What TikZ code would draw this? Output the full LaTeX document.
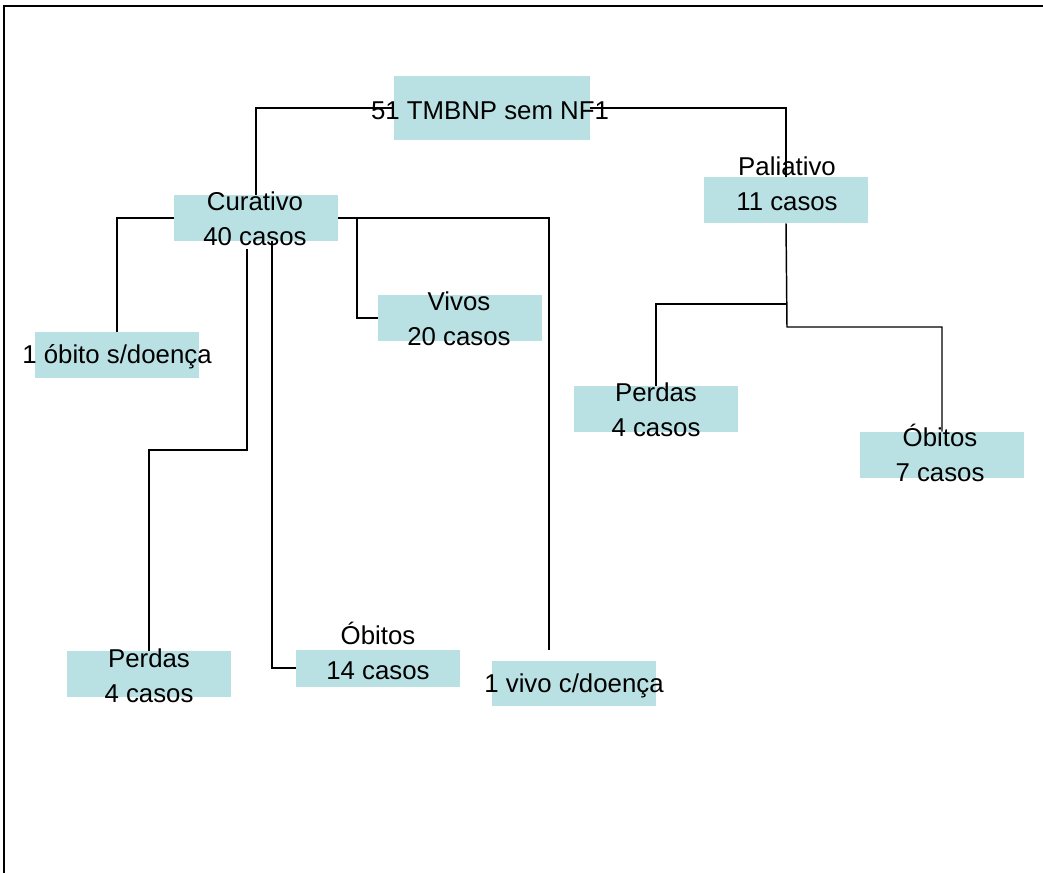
\documentclass[tikz,border=0pt]{standalone}
\usepackage{fontspec}
\setmainfont{Liberation Sans}
\usetikzlibrary{calc}
\definecolor{azulcaixa}{RGB}{185,224,226}
\pgfdeclarelayer{fundo}
\pgfsetlayers{fundo,main}
\tikzset{
	caixa/.style={fill=azulcaixa, draw=none, inner sep=0pt, minimum width=123pt, minimum height=34.5pt},
	rotulo/.style={anchor=base, align=center, inner sep=0pt, font=\fontsize{19.35}{26.25}\selectfont},
	liga/.style={line width=1.1pt},
	moldura/.style={line width=1.6pt}
}

\begin{document}
\begin{tikzpicture}[x=0.75pt, y=-0.75pt]
		%%%%% START %%%%%
		\useasboundingbox (0,0) rectangle (1043,873);
		\draw[moldura] (4,873) -- (4,6) -- (1043,6);
		
		% caixas
		\node[caixa, minimum width=147pt, minimum height=48pt] (raiz) at (492,108) {};
		\node[caixa] (cur) at (256,218) {};
		\node[caixa] (pal) at (786,200) {};
		\node[caixa] (obs) at (117,355) {};
		\node[caixa] (viv) at (460,318) {};
		\node[caixa] (per1) at (149,674) {};
		\node[caixa, minimum height=27.75pt] (ob1) at (378,668) {};
		\node[caixa, minimum height=33.75pt] (vcd) at (574,683) {};
		\node[caixa] (per2) at (656,409) {};
		\node[caixa] (ob2) at (942,455) {};
		
		% textos (base = linha de baixo)
		\node[rotulo] (raiz-t) at (490,120) {51 TMBNP sem NF1};
		\node[rotulo] (cur-t) at (255,246) {Curativo\\40 casos};
		\node[rotulo] (pal-t) at (787,211) {Paliativo\\11 casos};
		\node[rotulo] (obs-t) at (117,364) {1 óbito s/doença};
		\node[rotulo] (viv-t) at (459,346) {Vivos\\20 casos};
		\node[rotulo] (per1-t) at (149,702) {Perdas\\4 casos};
		\node[rotulo] (ob1-t) at (378,679) {Óbitos\\14 casos};
		\node[rotulo] (vcd-t) at (574,692) {1 vivo c/doença};
		\node[rotulo] (per2-t) at (656,437) {Perdas\\4 casos};
		\node[rotulo] (ob2-t) at (940,482) {Óbitos\\7 casos};
		
		% ligacoes
		\coordinate (cv) at (357,218);
		\coordinate (vcd-c) at (549,650);
		\coordinate (c1) at (247,249);
		\coordinate (c1b) at (247,450);
		\coordinate (c2) at (272,241);
		\coordinate (p1) at (787,304);
		\coordinate (p2) at (787,327);
		\begin{pgfonlayer}{fundo}
		\draw[liga] (raiz.west) -| (cur.north);
		\draw[liga] (raiz.east) -| (pal.north);
		\draw[liga] (cur.west) -| (obs.north);
		\draw[liga] (cur.east) -- (cv) |- (viv.west);
		\draw[liga] (cv) -| (vcd-c);
		\draw[liga] (c1) -- (c1b) -| (per1.north);
		\draw[liga] (c2) |- (ob1.west);
		\draw[liga] (pal.south) -- (p2) -| (ob2.north);
		\draw[liga] (p1) -| (per2.north);
		\end{pgfonlayer}
		%%%%% END %%%%%
\end{tikzpicture}
\end{document}
